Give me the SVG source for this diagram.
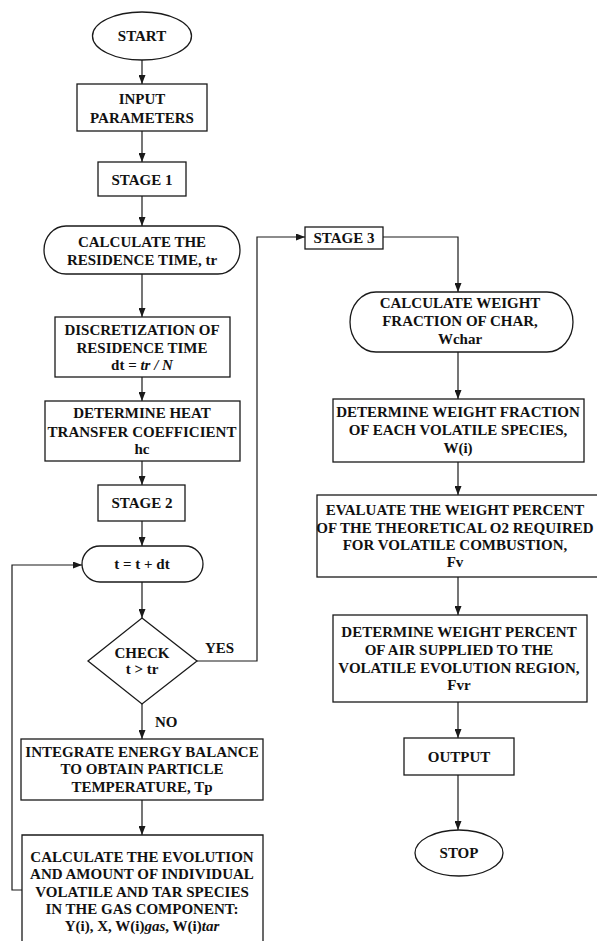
<svg xmlns="http://www.w3.org/2000/svg" width="597" height="941" viewBox="0 0 597 941">
<style>
.b{fill:#fff;stroke:#1a1a1a;stroke-width:1.3}
.t{font-family:"Liberation Serif","Times New Roman",serif;font-weight:bold;font-size:15px;text-anchor:middle;fill:#111}
.l{font-family:"Liberation Serif","Times New Roman",serif;font-weight:bold;font-size:15px;fill:#111}
.c{fill:none;stroke:#1a1a1a;stroke-width:1.2}
.i{font-style:italic}
</style>
<defs>
<marker id="a" markerUnits="userSpaceOnUse" markerWidth="9" markerHeight="7" refX="9" refY="3.5" orient="auto">
<path d="M0,0 L9,3.5 L0,7 z" fill="#1a1a1a"/>
</marker>
</defs>
<rect width="597" height="941" fill="#fff"/>
<g id="connectors">
<path class="c" marker-end="url(#a)" d="M142,60 V84"/>
<path class="c" marker-end="url(#a)" d="M142,131 V162"/>
<path class="c" marker-end="url(#a)" d="M142,196 V226"/>
<path class="c" marker-end="url(#a)" d="M142,274 V317"/>
<path class="c" marker-end="url(#a)" d="M142,377 V401"/>
<path class="c" marker-end="url(#a)" d="M142,461 V485"/>
<path class="c" marker-end="url(#a)" d="M142,521 V546"/>
<path class="c" marker-end="url(#a)" d="M142,582 V618"/>
<path class="c" marker-end="url(#a)" d="M142,704 V739"/>
<path class="c" marker-end="url(#a)" d="M142,800 V835"/>
<path class="c" marker-end="url(#a)" d="M22,890 H12 V565 H82"/>
<path class="c" marker-end="url(#a)" d="M197,661 H257 V237 H305"/>
<path class="c" marker-end="url(#a)" d="M383,237 H458 V292"/>
<path class="c" marker-end="url(#a)" d="M458,352 V399"/>
<path class="c" marker-end="url(#a)" d="M458,462 V495"/>
<path class="c" marker-end="url(#a)" d="M458,577 V615"/>
<path class="c" marker-end="url(#a)" d="M458,702 V738"/>
<path class="c" marker-end="url(#a)" d="M458,775 V830"/>
<text class="l" x="205" y="653">YES</text>
<text class="l" x="155" y="727">NO</text>
</g>
<g id="start">
<ellipse class="b" cx="142" cy="36" rx="49.5" ry="24"/>
<text class="t" x="142" y="41">START</text>
</g>
<g id="input">
<rect class="b" x="77" y="84" width="130" height="47"/>
<text class="t" x="142" y="104">INPUT</text>
<text class="t" x="142" y="123">PARAMETERS</text>
</g>
<g id="stage1">
<rect class="b" x="98" y="162" width="88" height="34"/>
<text class="t" x="142" y="185">STAGE 1</text>
</g>
<g id="residence">
<rect class="b" x="44" y="226" width="196" height="48" rx="22" ry="24"/>
<text class="t" x="142" y="247">CALCULATE THE</text>
<text class="t" x="142" y="265">RESIDENCE TIME, tr</text>
</g>
<g id="discretization">
<rect class="b" x="55" y="317" width="175" height="60"/>
<text class="t" x="142" y="335">DISCRETIZATION OF</text>
<text class="t" x="142" y="353">RESIDENCE TIME</text>
<text class="t" x="142" y="370">dt = <tspan class="i">tr / N</tspan></text>
</g>
<g id="heat">
<rect class="b" x="45" y="401" width="195" height="60"/>
<text class="t" x="142" y="418">DETERMINE HEAT</text>
<text class="t" x="142" y="437">TRANSFER COEFFICIENT</text>
<text class="t" x="142" y="454">hc</text>
</g>
<g id="stage2">
<rect class="b" x="98" y="485" width="87" height="36"/>
<text class="t" x="142" y="508">STAGE 2</text>
</g>
<g id="increment">
<rect class="b" x="82" y="546" width="121" height="36" rx="18" ry="18"/>
<text class="t" x="142" y="569">t = t + dt</text>
</g>
<g id="check">
<polygon class="b" points="142,618 197,661 142,704 88,661"/>
<text class="t" x="142" y="658">CHECK</text>
<text class="t" x="142" y="674">t &gt; tr</text>
</g>
<g id="integrate">
<rect class="b" x="21" y="739" width="242" height="61"/>
<text class="t" x="142" y="757">INTEGRATE ENERGY BALANCE</text>
<text class="t" x="142" y="774">TO OBTAIN PARTICLE</text>
<text class="t" x="142" y="792">TEMPERATURE, Tp</text>
</g>
<g id="evolution">
<path class="b" d="M22,945 V835 H263 V945"/>
<text class="t" x="142" y="862">CALCULATE THE EVOLUTION</text>
<text class="t" x="142" y="879">AND AMOUNT OF INDIVIDUAL</text>
<text class="t" x="142" y="897">VOLATILE AND TAR SPECIES</text>
<text class="t" x="142" y="914">IN THE GAS COMPONENT:</text>
<text class="t" x="142" y="931">Y(i), X, W(i)<tspan class="i">gas</tspan>, W(i)<tspan class="i">tar</tspan></text>
</g>
<g id="stage3">
<rect class="b" x="305" y="227" width="78" height="22"/>
<text class="t" x="344" y="243">STAGE 3</text>
</g>
<g id="char">
<rect class="b" x="350" y="292" width="223" height="60" rx="26" ry="30"/>
<text class="t" x="460" y="308">CALCULATE WEIGHT</text>
<text class="t" x="460" y="326">FRACTION OF CHAR,</text>
<text class="t" x="460" y="344">Wchar</text>
</g>
<g id="volatile">
<rect class="b" x="333" y="399" width="251" height="63"/>
<text class="t" x="458" y="417">DETERMINE WEIGHT FRACTION</text>
<text class="t" x="458" y="435">OF EACH VOLATILE SPECIES,</text>
<text class="t" x="458" y="453">W(i)</text>
</g>
<g id="oxygen">
<rect class="b" x="317" y="495" width="285" height="82"/>
<text class="t" x="455" y="515">EVALUATE THE WEIGHT PERCENT</text>
<text class="t" x="455" y="533">OF THE THEORETICAL O2 REQUIRED</text>
<text class="t" x="455" y="550">FOR VOLATILE COMBUSTION,</text>
<text class="t" x="455" y="567">Fv</text>
</g>
<g id="air">
<rect class="b" x="333" y="615" width="254" height="87"/>
<text class="t" x="459" y="637">DETERMINE WEIGHT PERCENT</text>
<text class="t" x="459" y="655">OF AIR SUPPLIED TO THE</text>
<text class="t" x="459" y="673">VOLATILE EVOLUTION REGION,</text>
<text class="t" x="459" y="690">Fvr</text>
</g>
<g id="output">
<rect class="b" x="404" y="738" width="110" height="37"/>
<text class="t" x="459" y="762">OUTPUT</text>
</g>
<g id="stop">
<ellipse class="b" cx="459" cy="853" rx="44" ry="23"/>
<text class="t" x="459" y="858">STOP</text>
</g>
</svg>
